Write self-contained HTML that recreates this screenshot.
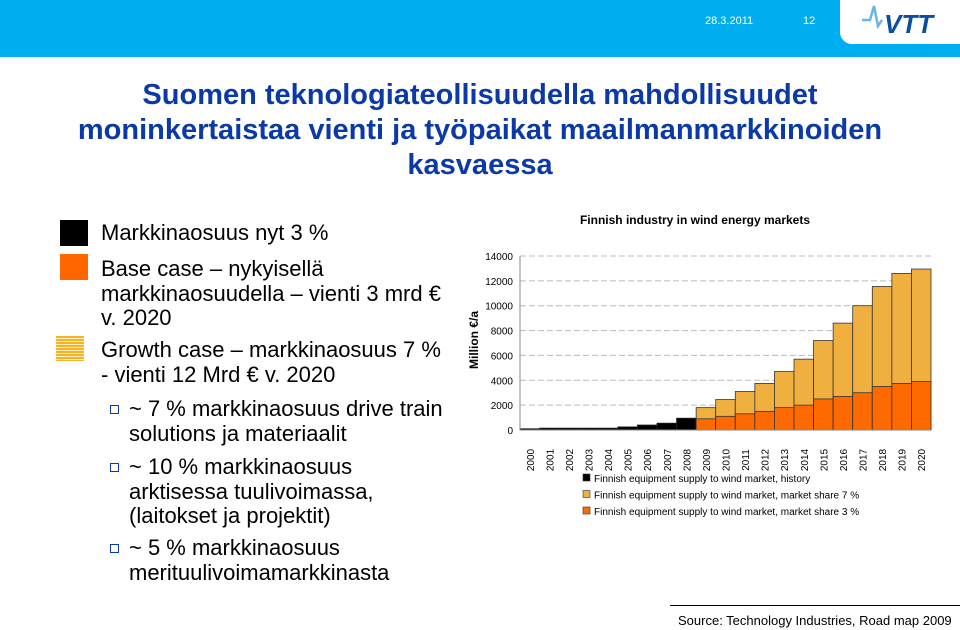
<!DOCTYPE html>
<html><head><meta charset="utf-8"><style>
body{margin:0;width:960px;height:629px;position:relative;background:#fff;font-family:"Liberation Sans",sans-serif;overflow:hidden}
.a{position:absolute;white-space:nowrap}
.t{font-size:22px;color:#000;line-height:24.5px}
.sq{position:absolute}
.h1{font-size:29px;color:#0b3aa8;font-weight:bold;text-align:center;line-height:35px}
</style></head><body>
<div class="a" style="left:0;top:0;width:960px;height:57px;background:#00aeef"></div>
<div class="a" style="left:705px;top:15px;font-size:11px;color:#fff">28.3.2011</div>
<div class="a" style="left:803px;top:15px;font-size:11px;color:#fff">12</div>
<div class="a" style="left:840px;top:0;width:120px;height:44px;background:#fff;border-bottom-left-radius:12px">
<svg width="120" height="44"><path d="M22 20 L30 20 L34 6 L38 26 L42 20" stroke="#6fb4e8" stroke-width="2.5" fill="none"/><text x="44" y="33" font-family="Liberation Sans" font-weight="bold" font-style="italic" font-size="26" fill="#0b4ea2">VTT</text></svg></div>
<div class="a h1" style="left:0;top:78px;width:960px">Suomen teknologiateollisuudella mahdollisuudet<br>moninkertaistaa vienti ja työpaikat maailmanmarkkinoiden<br>kasvaessa</div>

<div class="sq" style="left:60px;top:220px;width:28px;height:26px;background:#000"></div>
<div class="sq" style="left:60px;top:254px;width:28px;height:26px;background:#ff6600"></div>
<div class="sq" style="left:56px;top:336px;width:28px;height:25px;background:repeating-linear-gradient(#f7b12a 0 2px,#fff3c0 2px 3px)"></div>
<div class="a t" style="left:101px;top:221px">Markkinaosuus nyt 3 %</div>
<div class="a t" style="left:101px;top:257px">Base case – nykyisellä<br>markkinaosuudella – vienti 3 mrd €<br>v. 2020</div>
<div class="a t" style="left:101px;top:338px">Growth case – markkinaosuus 7 %<br>- vienti 12 Mrd € v. 2020</div>
<div class="sq" style="left:110px;top:405px;width:7px;height:7px;border:1px solid #0b3aa8"></div>
<div class="a t" style="left:129px;top:397px">~ 7 % markkinaosuus drive train<br>solutions ja materiaalit</div>
<div class="sq" style="left:110px;top:463px;width:7px;height:7px;border:1px solid #0b3aa8"></div>
<div class="a t" style="left:129px;top:455px">~ 10 % markkinaosuus<br>arktisessa tuulivoimassa,<br>(laitokset ja projektit)</div>
<div class="sq" style="left:110px;top:544px;width:7px;height:7px;border:1px solid #0b3aa8"></div>
<div class="a t" style="left:129px;top:536px">~ 5 % markkinaosuus<br>merituulivoimamarkkinasta</div>

<svg id="chart" class="a" style="left:0;top:0" width="960" height="629"></svg>
<div class="a" style="left:670px;top:605px;width:290px;height:24px;border-top:1px solid #000"></div>
<div class="a" style="left:678px;top:613px;font-size:13px">Source: Technology Industries, Road map 2009</div>
<script>
const years=["2000","2001","2002","2003","2004","2005","2006","2007","2008","2009","2010","2011","2012","2013","2014","2015","2016","2017","2018","2019","2020"];
const history=[100,150,150,150,150,250,400,550,950,0,0,0,0,0,0,0,0,0,0,0,0];
const share7=[0,0,0,0,0,0,0,0,0,1800,2450,3100,3750,4700,5700,7200,8600,10000,11550,12600,12950];
const share3=[0,0,0,0,0,0,0,0,0,900,1100,1300,1500,1800,2000,2500,2700,3000,3500,3750,3900];
const yTicks=[0,2000,4000,6000,8000,10000,12000,14000];
const legendLabels=["Finnish equipment supply to wind market, history","Finnish equipment supply to wind market, market share 7 %","Finnish equipment supply to wind market, market share 3 %"];
const svg=document.getElementById('chart');const NS="http://www.w3.org/2000/svg";
const L=520,R=931,T=256,B=430,ymax=14000;
const bw=(R-L)/years.length;
const y=v=>B-v/ymax*(B-T);const x=i=>L+i*bw;
function mk(tag,at,txt){const e=document.createElementNS(NS,tag);for(const k in at)e.setAttribute(k,at[k]);if(txt!==undefined)e.textContent=txt;svg.appendChild(e);return e;}
let e=mk('text',{x:695,y:224,'text-anchor':'middle','font-size':12,'font-weight':'bold','font-family':'Liberation Sans'},'Finnish industry in wind energy markets');


yTicks.forEach(v=>{
 if(v>0){const g=mk('line',{x1:L,x2:R,y1:y(v),y2:y(v),stroke:'#bbb','stroke-dasharray':'6,3'});
 
 }
 const t=mk('text',{x:513,y:y(v)+4,'text-anchor':'end','font-size':10,'font-family':'Liberation Sans'},v);
 
 
});
e=mk('text',{transform:'translate(478,340) rotate(-90)','text-anchor':'middle','font-size':12,'font-weight':'bold','font-family':'Liberation Sans'},'Million €/a');


years.forEach((yr,i)=>{
 if(history[i]>0){const b=mk('rect',{x:x(i),y:y(history[i]),width:bw,height:B-y(history[i]),fill:'#000',stroke:'#222','stroke-width':0.8});
 
 }
 if(share7[i]>0){const b=mk('rect',{x:x(i),y:y(share7[i]),width:bw,height:B-y(share7[i]),fill:'#f0b040',stroke:'#333','stroke-width':0.8});
 
 }
 if(share3[i]>0){const b=mk('rect',{x:x(i),y:y(share3[i]),width:bw,height:B-y(share3[i]),fill:'#ff6a00',stroke:'#333','stroke-width':0.8});
 
 }
 const cx=x(i)+bw/2+4;
 const t=mk('text',{transform:`translate(${cx},460) rotate(-90)`,'text-anchor':'middle','font-size':10,'font-family':'Liberation Sans'},yr);
 
 
});
e=mk('line',{x1:L,x2:L,y1:T,y2:B,stroke:'#888'});


e=mk('line',{x1:L,x2:R,y1:B,y2:B,stroke:'#888'});


const lc=['#000','#f0b040','#ff6a00'];
legendLabels.forEach((lb,i)=>{
 const r=mk('rect',{x:583,y:474+i*16.5,width:7,height:7,fill:lc[i],stroke:'#333','stroke-width':0.6});
 
 
 const t=mk('text',{x:594,y:482+i*16.5,'font-size':10,'font-family':'Liberation Sans'},lb);
 
 
});
</script>
</body></html>
